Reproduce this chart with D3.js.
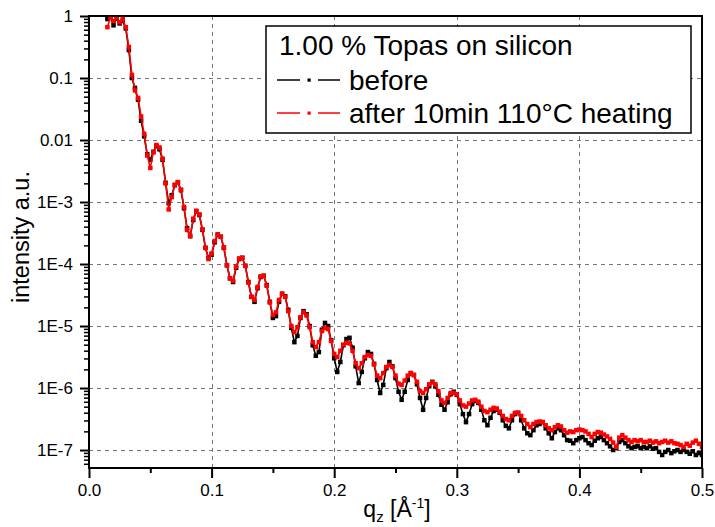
<!DOCTYPE html>
<html><head><meta charset="utf-8">
<script src="https://cdn.jsdelivr.net/npm/d3@7/dist/d3.min.js"></script>
<style>body{margin:0;background:#fff} text{font-family:"Liberation Sans",Arial,sans-serif;fill:#000}</style>
</head><body><svg id="chart" width="715" height="527"></svg>
<script>
// q_z values (Å^-1)
const qValues = [
0.015,0.0175,0.02,0.0225,0.025,0.0275,0.03,0.0325,0.035,0.0375,
0.04,0.0425,0.045,0.0475,0.05,0.0525,0.055,0.0575,0.06,0.0625,
0.065,0.0675,0.07,0.0725,0.075,0.0775,0.08,0.0825,0.085,0.0875,
0.09,0.0925,0.095,0.0975,0.1,0.1025,0.105,0.1075,0.11,0.1125,
0.115,0.1175,0.12,0.1225,0.125,0.1275,0.13,0.1325,0.135,0.1375,
0.14,0.1425,0.145,0.1475,0.15,0.1525,0.155,0.1575,0.16,0.1625,
0.165,0.1675,0.17,0.1725,0.175,0.1775,0.18,0.1825,0.185,0.1875,
0.19,0.1925,0.195,0.1975,0.2,0.2025,0.205,0.2075,0.21,0.2125,
0.215,0.2175,0.22,0.2225,0.225,0.2275,0.23,0.2325,0.235,0.2375,
0.24,0.2425,0.245,0.2475,0.25,0.2525,0.255,0.2575,0.26,0.2625,
0.265,0.2675,0.27,0.2725,0.275,0.2775,0.28,0.2825,0.285,0.2875,
0.29,0.2925,0.295,0.2975,0.3,0.3025,0.305,0.3075,0.31,0.3125,
0.315,0.3175,0.32,0.3225,0.325,0.3275,0.33,0.3325,0.335,0.3375,
0.34,0.3425,0.345,0.3475,0.35,0.3525,0.355,0.3575,0.36,0.3625,
0.365,0.3675,0.37,0.3725,0.375,0.3775,0.38,0.3825,0.385,0.3875,
0.39,0.3925,0.395,0.3975,0.4,0.4025,0.405,0.4075,0.41,0.4125,
0.415,0.4175,0.42,0.4225,0.425,0.4275,0.43,0.4325,0.435,0.4375,
0.44,0.4425,0.445,0.4475,0.45,0.4525,0.455,0.4575,0.46,0.4625,
0.465,0.4675,0.47,0.4725,0.475,0.4775,0.48,0.4825,0.485,0.4875,
0.49,0.4925,0.495,0.4975,0.5];

// log10(intensity), "before"
const beforeLog10 = [
-0.05,-0.02,-0.15,-0.04,-0.12,-0.08,-0.2,-0.55,-1.0,-1.16,
-1.35,-1.69,-1.94,-2.23,-2.32,-2.19,-2.1,-2.15,-2.32,-2.69,
-3.02,-2.89,-2.73,-2.68,-2.81,-3.1,-3.42,-3.55,-3.29,-3.15,
-3.21,-3.45,-3.74,-3.9,-3.85,-3.65,-3.53,-3.56,-3.74,-4.02,
-4.23,-4.29,-4.06,-3.92,-3.9,-4.03,-4.29,-4.53,-4.61,-4.39,
-4.21,-4.19,-4.34,-4.61,-4.87,-4.84,-4.61,-4.48,-4.52,-4.74,
-5.03,-5.26,-5.16,-4.87,-4.76,-4.81,-5.0,-5.31,-5.48,-5.42,
-5.06,-4.95,-5.0,-5.23,-5.52,-5.74,-5.58,-5.31,-5.21,-5.19,
-5.35,-5.65,-5.92,-5.74,-5.52,-5.42,-5.45,-5.61,-5.87,-6.08,
-5.95,-5.68,-5.58,-5.65,-5.84,-6.06,-6.19,-6.06,-5.87,-5.76,
-5.79,-5.94,-6.16,-6.35,-6.16,-5.97,-5.9,-5.97,-6.11,-6.27,
-6.35,-6.23,-6.1,-6.06,-6.11,-6.26,-6.42,-6.55,-6.42,-6.26,
-6.21,-6.24,-6.35,-6.52,-6.6,-6.48,-6.37,-6.35,-6.4,-6.52,
-6.61,-6.65,-6.52,-6.42,-6.4,-6.52,-6.65,-6.73,-6.76,-6.68,
-6.6,-6.58,-6.55,-6.65,-6.73,-6.81,-6.71,-6.65,-6.68,-6.76,
-6.84,-6.85,-6.89,-6.84,-6.81,-6.79,-6.84,-6.89,-6.92,-6.85,
-6.81,-6.79,-6.84,-6.89,-6.94,-7.0,-6.97,-6.87,-6.84,-6.89,
-6.94,-6.97,-6.95,-6.94,-6.97,-6.95,-6.97,-6.94,-6.98,-6.97,
-7.03,-7.08,-7.03,-7.0,-7.05,-7.02,-7.0,-7.03,-7.0,-7.03,
-7.06,-7.02,-7.08,-7.05,-7.08];

// log10(intensity), "after 10min 110°C heating"
const afterLog10 = [
-0.18,-0.03,-0.08,-0.02,-0.1,-0.05,-0.18,-0.5,-0.95,-1.2,
-1.32,-1.62,-1.9,-2.25,-2.45,-2.2,-2.08,-2.12,-2.3,-2.7,
-3.12,-2.92,-2.72,-2.68,-2.8,-3.08,-3.45,-3.55,-3.27,-3.14,
-3.2,-3.44,-3.74,-3.92,-3.83,-3.63,-3.52,-3.56,-3.73,-4.02,
-4.23,-4.27,-4.04,-3.91,-3.9,-4.03,-4.3,-4.53,-4.58,-4.37,
-4.2,-4.19,-4.35,-4.62,-4.82,-4.78,-4.58,-4.48,-4.53,-4.76,
-5.0,-5.1,-5.02,-4.86,-4.78,-4.83,-5.02,-5.26,-5.34,-5.26,
-5.08,-5.03,-5.05,-5.24,-5.45,-5.5,-5.4,-5.3,-5.27,-5.28,
-5.4,-5.6,-5.68,-5.6,-5.5,-5.47,-5.48,-5.62,-5.8,-5.84,
-5.76,-5.66,-5.63,-5.66,-5.8,-5.93,-5.95,-5.88,-5.8,-5.76,
-5.79,-5.9,-6.05,-6.08,-6.02,-5.94,-5.91,-5.94,-6.05,-6.2,
-6.24,-6.16,-6.08,-6.08,-6.1,-6.2,-6.28,-6.3,-6.25,-6.2,
-6.19,-6.22,-6.3,-6.37,-6.39,-6.35,-6.32,-6.33,-6.38,-6.45,
-6.5,-6.52,-6.45,-6.4,-6.4,-6.45,-6.52,-6.58,-6.63,-6.58,
-6.55,-6.54,-6.55,-6.6,-6.65,-6.68,-6.63,-6.6,-6.62,-6.68,
-6.72,-6.7,-6.71,-6.68,-6.67,-6.68,-6.7,-6.74,-6.79,-6.74,
-6.71,-6.72,-6.75,-6.78,-6.82,-6.88,-6.95,-6.8,-6.76,-6.8,
-6.84,-6.87,-6.84,-6.86,-6.84,-6.87,-6.87,-6.85,-6.88,-6.86,
-6.89,-6.87,-6.85,-6.88,-6.86,-6.89,-6.9,-6.92,-6.95,-6.9,
-6.93,-6.88,-6.85,-6.9,-6.95];

const xTicks = [0, 0.1, 0.2, 0.3, 0.4, 0.5];
const xTickLabels = ["0.0", "0.1", "0.2", "0.3", "0.4", "0.5"];
const xMinorTicks = [0.05, 0.15, 0.25, 0.35, 0.45];
const yTicks = [1e-7, 1e-6, 1e-5, 1e-4, 1e-3, 1e-2, 1e-1, 1];
const yTickLabels = ["1E-7", "1E-6", "1E-5", "1E-4", "1E-3", "0.01", "0.1", "1"];
const legendTitle = "1.00 % Topas on silicon";
const seriesNames = ["before", "after 10min 110°C heating"];
const seriesColors = ["#000000", "#ff0000"];
const xDomain = [0, 0.5];
const yDomain = [5.13e-8, 1];

const svg = d3.select("#chart");
const L = 89, R = 702, T = 16, B = 468;
const x = d3.scaleLinear().domain(xDomain).range([L, R]);
const y = d3.scaleLog().domain(yDomain).range([B, T]);

const series = [beforeLog10, afterLog10].map((arr, si) => ({
  name: seriesNames[si], color: seriesColors[si],
  pts: arr.map((v, i) => ({q: qValues[i], I: Math.pow(10, v)}))
}));

// grid
const grid = svg.append("g").attr("stroke", "#777").attr("stroke-width", 1).attr("stroke-dasharray", "4,4");
grid.selectAll("line.vx").data(xTicks.filter(t => t > 0 && t < 0.5)).enter().append("line")
  .attr("x1", d => Math.round(x(d)) + 0.5).attr("x2", d => Math.round(x(d)) + 0.5)
  .attr("y1", T).attr("y2", B);
grid.selectAll("line.hy").data(yTicks.filter(t => t < 1)).enter().append("line")
  .attr("y1", d => Math.round(y(d)) + 0.5).attr("y2", d => Math.round(y(d)) + 0.5)
  .attr("x1", L).attr("x2", R);

// data
svg.append("defs").append("clipPath").attr("id", "clip")
  .append("rect").attr("x", L).attr("y", T).attr("width", R - L).attr("height", B - T);
const plot = svg.append("g").attr("clip-path", "url(#clip)");
const line = d3.line().x(d => x(d.q)).y(d => y(d.I));
const ms = 4.5;
series.forEach(s => {
  const g = plot.append("g");
  g.append("path").datum(s.pts).attr("d", line).attr("fill", "none")
    .attr("stroke", s.color).attr("stroke-width", 1.6);
  g.selectAll("rect").data(s.pts).enter().append("rect")
    .attr("x", d => x(d.q) - ms / 2).attr("y", d => y(d.I) - ms / 2)
    .attr("width", ms).attr("height", ms).attr("fill", s.color);
});

// axes
const xAxis = d3.axisBottom(x).tickValues(xTicks).tickFormat((d, i) => xTickLabels[i])
  .tickSizeInner(10).tickSizeOuter(0).tickPadding(6);
const gx = svg.append("g").attr("transform", `translate(0,${B})`).call(xAxis);
gx.select(".domain").remove();
gx.selectAll(".tick line").attr("stroke", "#000").attr("stroke-width", 2);
gx.selectAll(".tick text").attr("font-size", 17).attr("font-family", '"Liberation Sans",Arial,sans-serif');
const xMinor = d3.axisBottom(x).tickValues(xMinorTicks).tickFormat("").tickSizeInner(5).tickSizeOuter(0);
const gxm = svg.append("g").attr("transform", `translate(0,${B})`).call(xMinor);
gxm.select(".domain").remove();
gxm.selectAll(".tick line").attr("stroke", "#000").attr("stroke-width", 2);

const yAxis = d3.axisLeft(y).tickValues(yTicks).tickFormat((d, i) => yTickLabels[i])
  .tickSizeInner(9).tickSizeOuter(0).tickPadding(7);
const gy = svg.append("g").attr("transform", `translate(${L},0)`).call(yAxis);
gy.select(".domain").remove();
gy.selectAll(".tick line").attr("stroke", "#000").attr("stroke-width", 2);
gy.selectAll(".tick text").attr("font-size", 17).attr("font-family", '"Liberation Sans",Arial,sans-serif');
const yMinorVals = y.ticks().filter(t => !yTicks.some(m => Math.abs(m - t) / m < 1e-6));
const yMinor = d3.axisLeft(y).tickValues(yMinorVals).tickFormat("").tickSizeInner(5).tickSizeOuter(0);
const gym = svg.append("g").attr("transform", `translate(${L},0)`).call(yMinor);
gym.select(".domain").remove();
gym.selectAll(".tick line").attr("stroke", "#000").attr("stroke-width", 1.5);

// frame
svg.append("rect").attr("x", L).attr("y", T).attr("width", R - L).attr("height", B - T)
  .attr("fill", "none").attr("stroke", "#000").attr("stroke-width", 2);

// axis titles
const xt = svg.append("text").attr("x", 397).attr("y", 517).attr("text-anchor", "middle").attr("font-size", 23);
xt.append("tspan").text("q");
xt.append("tspan").attr("font-size", 15).attr("dy", 5).text("z");
xt.append("tspan").attr("dy", -5).text(" [Å");
xt.append("tspan").attr("font-size", 14).attr("dy", -9).text("-1");
xt.append("tspan").attr("dy", 9).text("]");

svg.append("text").attr("transform", "translate(29,237) rotate(-90)")
  .attr("text-anchor", "middle").attr("font-size", 23.5).text("intensity a.u.");

// legend
const lg = svg.append("g");
lg.append("rect").attr("x", 266).attr("y", 26).attr("width", 425).attr("height", 107)
  .attr("fill", "#fff").attr("stroke", "#000").attr("stroke-width", 1.5);
lg.append("text").attr("x", 279).attr("y", 55).attr("font-size", 28).text(legendTitle);
const rowY = [80, 113];
series.forEach((s, i) => {
  const yy = rowY[i];
  lg.append("line").attr("x1", 277).attr("x2", 300).attr("y1", yy).attr("y2", yy)
    .attr("stroke", s.color).attr("stroke-width", 1.5);
  lg.append("line").attr("x1", 318).attr("x2", 340).attr("y1", yy).attr("y2", yy)
    .attr("stroke", s.color).attr("stroke-width", 1.5);
  lg.append("rect").attr("x", 307.5).attr("y", yy - 1.5).attr("width", 3.2).attr("height", 3.2).attr("fill", s.color);
  lg.append("text").attr("x", 349).attr("y", yy + 10).attr("font-size", 28).text(s.name);
});
</script>
</body></html>
